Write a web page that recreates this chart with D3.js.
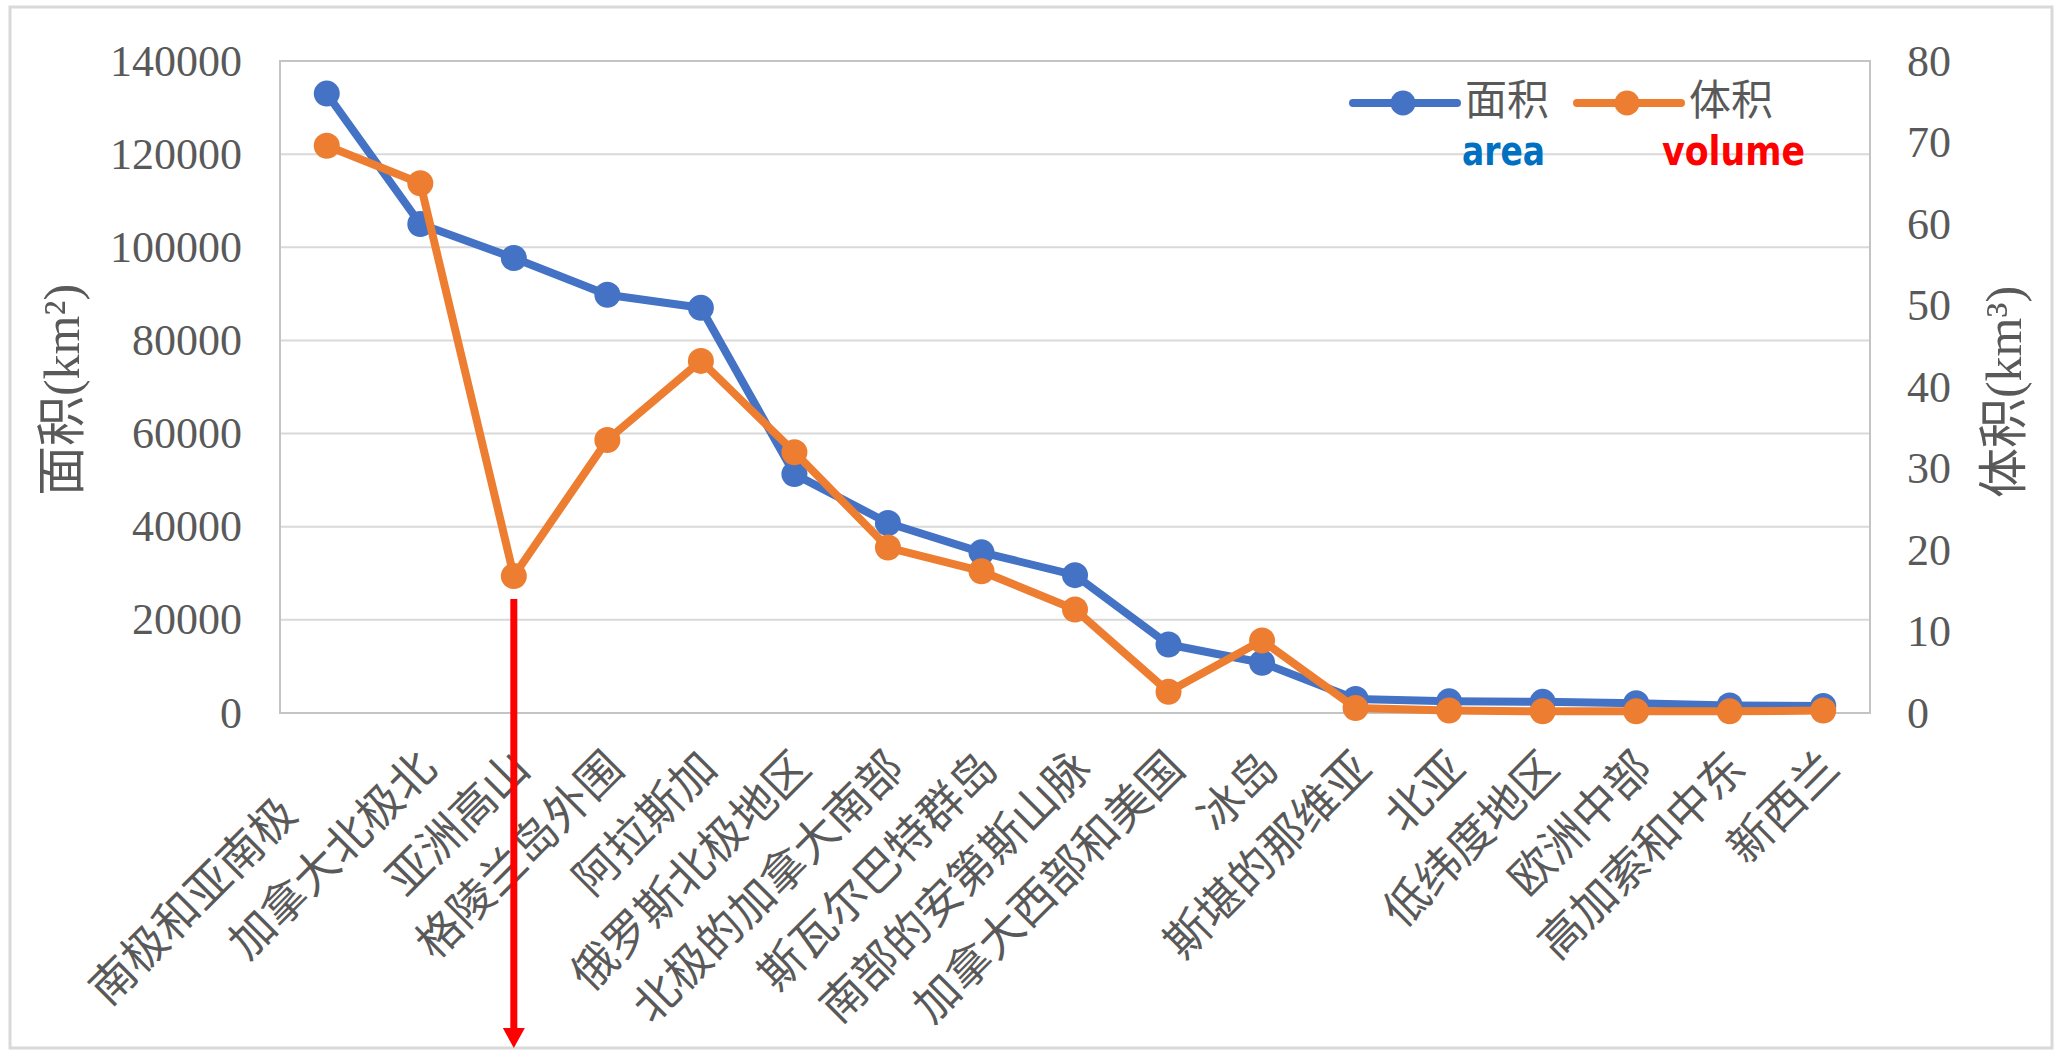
<!DOCTYPE html>
<html>
<head>
<meta charset="utf-8">
<script src="https://cdn.jsdelivr.net/npm/d3@7"></script>
<style>
  html, body { margin: 0; padding: 0; background: #ffffff; }
  svg { display: block; }
</style>
</head>
<body>
<svg id="chart" width="2060" height="1050"></svg>
<script>
// Glacier regions, ordered by glacier area
const categories = [
  "南极和亚南极", "加拿大北极北", "亚洲高山", "格陵兰岛外围", "阿拉斯加",
  "俄罗斯北极地区", "北极的加拿大南部", "斯瓦尔巴特群岛", "南部的安第斯山脉",
  "加拿大西部和美国", "冰岛", "斯堪的那维亚", "北亚", "低纬度地区",
  "欧洲中部", "高加索和中东", "新西兰"
];
// Glacier area (km²), left axis
const areaValues = [133000, 105000, 97700, 89800, 87000, 51300, 40800, 34500, 29600,
  14700, 10800, 3000, 2500, 2400, 2100, 1600, 1500];
// Glacier volume (km³), right axis
const volumeValues = [69.6, 65.0, 16.8, 33.5, 43.2, 32.0, 20.3, 17.4, 12.7,
  2.6, 8.9, 0.6, 0.3, 0.2, 0.2, 0.2, 0.3];

const leftTicks = [0, 20000, 40000, 60000, 80000, 100000, 120000, 140000];
const rightTicks = [0, 10, 20, 30, 40, 50, 60, 70, 80];
const seriesNames = ["面积", "体积"];
const seriesNotes = ["area", "volume"];
const leftTitle = "面积(km²)";
const rightTitle = "体积(km³)";
const highlightCategory = "亚洲高山";

const BLUE = "#4472C4", ORANGE = "#ED7D31", TEXT = "#595959";
const SERIF = "'Liberation Serif', 'Noto Sans CJK SC', serif";

const svg = d3.select("#chart");
const plot = { left: 280, right: 1870, top: 61, bottom: 713 };

// outer chart frame
svg.append("rect")
  .attr("x", 10).attr("y", 7).attr("width", 2042).attr("height", 1041)
  .attr("fill", "#ffffff").attr("stroke", "#d9d9d9").attr("stroke-width", 3);

const x = d3.scaleBand().domain(categories).range([plot.left, plot.right]);
const yL = d3.scaleLinear().domain([0, 140000]).range([plot.bottom, plot.top]);
const yR = d3.scaleLinear().domain([0, 80]).range([plot.bottom, plot.top]);
const cx = d => x(d) + x.bandwidth() / 2;

// gridlines
svg.append("g").selectAll("line").data(leftTicks).join("line")
  .attr("x1", plot.left).attr("x2", plot.right)
  .attr("y1", d => yL(d)).attr("y2", d => yL(d))
  .attr("stroke", "#d9d9d9").attr("stroke-width", 2);

// plot area border
svg.append("rect")
  .attr("x", plot.left).attr("y", plot.top)
  .attr("width", plot.right - plot.left).attr("height", plot.bottom - plot.top)
  .attr("fill", "none").attr("stroke", "#c4c4c4").attr("stroke-width", 2);

// left axis
const gL = svg.append("g").attr("transform", `translate(${plot.left},0)`)
  .call(d3.axisLeft(yL).tickValues(leftTicks).tickSize(0).tickPadding(38).tickFormat(d3.format("d")));
// right axis
const gR = svg.append("g").attr("transform", `translate(${plot.right},0)`)
  .call(d3.axisRight(yR).tickValues(rightTicks).tickSize(0).tickPadding(37).tickFormat(d3.format("d")));
[gL, gR].forEach(g => {
  g.select(".domain").remove();
  g.selectAll("text").attr("fill", TEXT).style("font-family", SERIF).style("font-size", "44px");
});

// category axis with slanted labels
const gB = svg.append("g").attr("transform", `translate(0,${plot.bottom})`)
  .call(d3.axisBottom(x).tickSize(0));
gB.select(".domain").remove();
gB.selectAll(".tick").attr("transform", null);
gB.selectAll(".tick text")
  .attr("y", null).attr("dy", null)
  .attr("text-anchor", "end")
  .attr("dominant-baseline", "central")
  .attr("fill", TEXT)
  .style("font-family", SERIF).style("font-size", "45px")
  .attr("transform", (d, i) =>
    `translate(${cx(d) + 8},47) rotate(-45)` + (i === 0 ? " translate(-65,0)" : ""));

// axis titles
svg.append("text")
  .attr("transform", `translate(62,390) rotate(-90)`)
  .attr("text-anchor", "middle").attr("dominant-baseline", "central")
  .attr("fill", TEXT).style("font-family", SERIF).style("font-size", "50px")
  .text(leftTitle);
svg.append("text")
  .attr("transform", `translate(2004,392) rotate(-90)`)
  .attr("text-anchor", "middle").attr("dominant-baseline", "central")
  .attr("fill", TEXT).style("font-family", SERIF).style("font-size", "50px")
  .text(rightTitle);

// series
const series = [
  { values: areaValues, y: yL, color: BLUE },
  { values: volumeValues, y: yR, color: ORANGE }
];
series.forEach(s => {
  const pts = categories.map((c, i) => [cx(c), s.y(s.values[i])]);
  svg.append("path")
    .attr("d", d3.line()(pts))
    .attr("fill", "none").attr("stroke", s.color).attr("stroke-width", 8)
    .attr("stroke-linejoin", "round").attr("stroke-linecap", "round");
  svg.append("g").selectAll("circle").data(pts).join("circle")
    .attr("cx", d => d[0]).attr("cy", d => d[1]).attr("r", 13)
    .attr("fill", s.color);
});

// legend
const legendX = [1353, 1577];
const noteColors = ["#0070C0", "#FF0000"];
const noteWidths = [83, 143];
const noteX = [1462, 1662];
seriesNames.forEach((name, i) => {
  const g = svg.append("g");
  const color = series[i].color;
  g.append("line")
    .attr("x1", legendX[i]).attr("x2", legendX[i] + 104)
    .attr("y1", 103).attr("y2", 103)
    .attr("stroke", color).attr("stroke-width", 8).attr("stroke-linecap", "round");
  g.append("circle").attr("cx", legendX[i] + 50).attr("cy", 103).attr("r", 12.5).attr("fill", color);
  g.append("text")
    .attr("x", legendX[i] + 112).attr("y", 101)
    .attr("dominant-baseline", "central")
    .attr("fill", TEXT).style("font-family", SERIF).style("font-size", "42px")
    .text(name);
  g.append("text")
    .attr("x", noteX[i]).attr("y", 165)
    .attr("textLength", noteWidths[i]).attr("lengthAdjust", "spacingAndGlyphs")
    .attr("fill", noteColors[i])
    .style("font-family", "'DejaVu Sans', sans-serif").style("font-weight", "bold").style("font-size", "40px")
    .text(seriesNotes[i]);
});

// arrow marking the volume dip
const hi = categories.indexOf(highlightCategory);
const ax = cx(highlightCategory);
const ay0 = yR(volumeValues[hi]) + 23;
const ay1 = 1048;
svg.append("line")
  .attr("x1", ax).attr("x2", ax).attr("y1", ay0).attr("y2", ay1 - 18)
  .attr("stroke", "#FF0000").attr("stroke-width", 7);
svg.append("path")
  .attr("d", `M${ax - 11},${ay1 - 20} L${ax + 11},${ay1 - 20} L${ax},${ay1} Z`)
  .attr("fill", "#FF0000");
</script>
</body>
</html>
